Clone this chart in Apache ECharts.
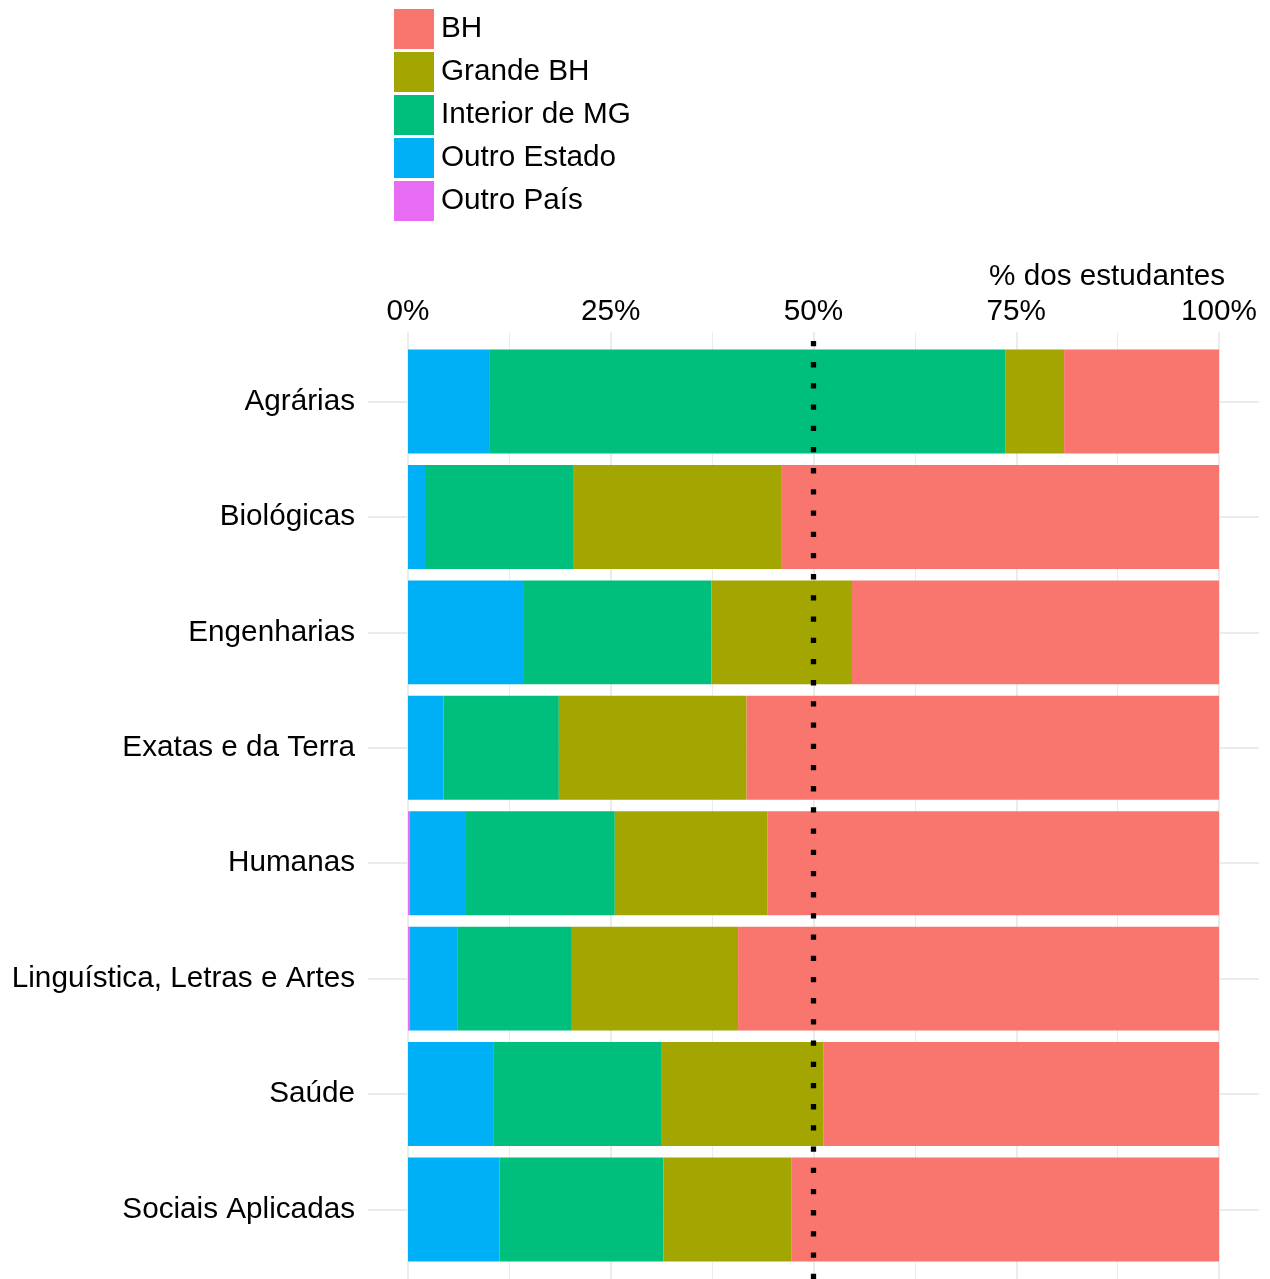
<!DOCTYPE html>
<html>
<head>
<meta charset="utf-8">
<script src="https://cdn.jsdelivr.net/npm/echarts@6/dist/echarts.min.js"></script>
<style>
html,body{margin:0;padding:0;background:#fff;}
#chart{width:1270px;height:1279px;}
</style>
</head>
<body>
<div id="chart"></div>
<script>
// ---- data (percent of students) ----
var categories = ['Agrárias','Biológicas','Engenharias','Exatas e da Terra','Humanas','Linguística, Letras e Artes','Saúde','Sociais Aplicadas'];
var outroPais    = [0,    0,     0,     0,     0.25, 0.25, 0,    0];
var outroEstado  = [10.1, 2.1,   14.3,  4.4,   6.9,  5.9,  10.5, 11.3];
var interiorMG   = [63.6, 18.25, 23.1,  14.2,  18.35,13.95,20.7, 20.2];
var grandeBH     = [7.2,  25.65, 17.35, 23.15, 18.8, 20.6, 20.0, 15.75];
var bh           = [19.1, 54.0,  45.25, 58.25, 55.7, 59.3, 48.8, 52.75];
var xTicks = [0, 25, 50, 75, 100];
var refLine = 50;
var legendOrder = ['BH','Grande BH','Interior de MG','Outro Estado','Outro País'];
var axisTitle = '% dos estudantes';

var FONT = "'Liberation Sans', Arial, Helvetica, sans-serif";
var FS = 29.7;
var colors = {'BH':'#F8766D','Grande BH':'#A3A500','Interior de MG':'#00BF7D','Outro Estado':'#00B0F6','Outro País':'#E76BF3'};
var GRID = '#EBEBEB';

var chart = echarts.init(document.getElementById('chart'), null, {renderer:'canvas'});

function barSeries(name, data){
  return {
    name: name, type: 'bar', stack: 'total', xAxisIndex: 0, yAxisIndex: 0,
    data: data, barCategoryGap: '10%',
    itemStyle: {color: colors[name]},
    emphasis: {disabled: true}, z: 2
  };
}

var option = {
  animation: false,
  backgroundColor: '#ffffff',
  textStyle: {fontFamily: FONT},
  legend: {
    orient: 'vertical', left: 394, top: 9, padding: 0,
    itemWidth: 40, itemHeight: 40, itemGap: 3,
    icon: 'rect',
    data: legendOrder,
    textStyle: {fontSize: FS, color: '#000', fontFamily: FONT, padding: [8,0,0,2]}
  },
  grid: [
    {left: 408, width: 811, top: 343.8, height: 923.4},   // bars
    {left: 368, width: 891, top: 401.5, height: 808},     // horizontal grid lines
    {left: 408, width: 811, top: 332.2, height: 946.8}    // vertical grid lines + ref line
  ],
  xAxis: [
    {
      gridIndex: 0, type: 'value', position: 'top', min: 0, max: 100, interval: 25,
      axisLine: {show: false}, axisTick: {show: false}, splitLine: {show: false},
      axisLabel: {fontSize: FS, color: '#000', fontFamily: FONT, margin: 17,
        formatter: function(v){ return xTicks.indexOf(v) >= 0 ? v + '%' : ''; }},
      name: axisTitle, nameLocation: 'end', nameGap: 6,
      nameTextStyle: {fontSize: FS, color: '#000', fontFamily: FONT, align: 'right', verticalAlign: 'bottom', padding: [0,0,52,0]}
    },
    {gridIndex: 1, type: 'value', show: false, min: 0, max: 1},
    {
      gridIndex: 2, type: 'value', min: 0, max: 100, interval: 25,
      axisLine: {show: false}, axisTick: {show: false}, axisLabel: {show: false},
      splitLine: {show: true, lineStyle: {color: GRID, width: 2}},
      minorTick: {show: false, splitNumber: 2},
      minorSplitLine: {show: true, lineStyle: {color: GRID, width: 1}}
    }
  ],
  yAxis: [
    {
      gridIndex: 0, type: 'category', inverse: true, data: categories,
      axisLine: {show: false}, axisTick: {show: false}, splitLine: {show: false},
      axisLabel: {fontSize: FS, color: '#000', fontFamily: FONT, margin: 53, padding: [7,0,0,0]}
    },
    {
      gridIndex: 1, type: 'category', inverse: true, data: categories, boundaryGap: false,
      axisLine: {show: false}, axisTick: {show: false}, axisLabel: {show: false},
      splitLine: {show: true, lineStyle: {color: GRID, width: 2}}
    },
    {gridIndex: 2, type: 'value', min: 0, max: 1, show: false}
  ],
  series: [
    barSeries('Outro País', outroPais),
    barSeries('Outro Estado', outroEstado),
    barSeries('Interior de MG', interiorMG),
    barSeries('Grande BH', grandeBH),
    barSeries('BH', bh),
    {
      type: 'line', xAxisIndex: 2, yAxisIndex: 2,
      data: [[refLine, 0], [refLine, 1]],
      symbol: 'none', silent: true, z: 10,
      lineStyle: {color: '#000', width: 5.3, type: [5.3, 15.9], cap: 'butt'}
    }
  ]
};
chart.setOption(option);
</script>
</body>
</html>
